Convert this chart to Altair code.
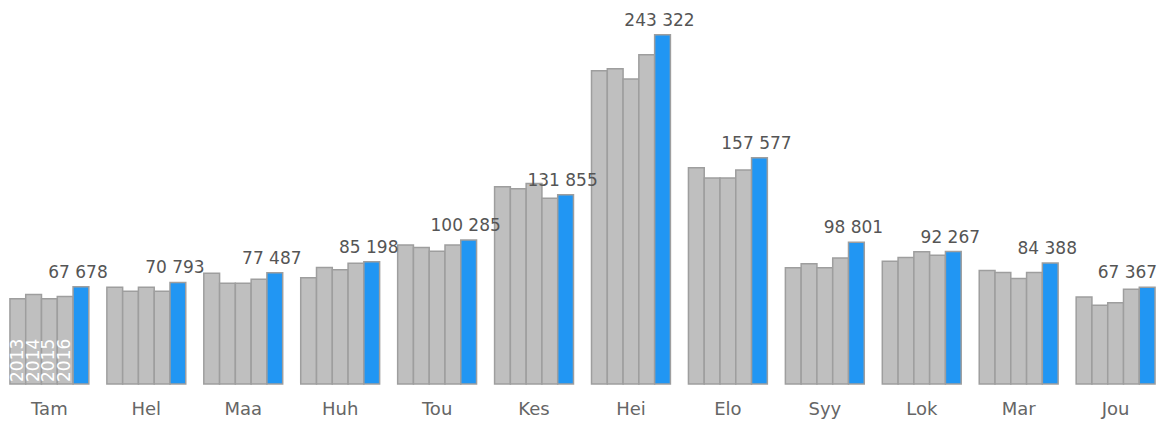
import altair as alt
import pandas as pd

months = ["Tam", "Hel", "Maa", "Huh", "Tou", "Kes", "Hei", "Elo", "Syy", "Lok", "Mar", "Jou"]
years = ["2013", "2014", "2015", "2016", "2017"]

v2013 = [59350, 67480, 77200, 73950, 96780, 137410, 218330, 150600, 81030, 85460, 79030, 60640]
v2014 = [62340, 64700, 70250, 81190, 95160, 136020, 219720, 143620, 83830, 88060, 77630, 54890]
v2015 = [59350, 67480, 70250, 79570, 92560, 139770, 212570, 143620, 81030, 92200, 73460, 56690]
v2016 = [60950, 64700, 73030, 84190, 96780, 129350, 229440, 149200, 87820, 89680, 77630, 65980]
v2017 = [67678, 70793, 77487, 85198, 100285, 131855, 243322, 157577, 98801, 92267, 84388, 67367]

series = [v2013, v2014, v2015, v2016, v2017]

rows = []
for yr, vals in zip(years, series):
    for m, v in zip(months, vals):
        rows.append({"month": m, "year": yr, "value": v,
                     "label": f"{v:,}".replace(",", " ")})
df = pd.DataFrame(rows)

GRAY = "#bfbfbf"
BLUE = "#2196f3"
FONT = "DejaVu Sans"

x = alt.X("month:N", sort=months,
          scale=alt.Scale(paddingInner=0.186, paddingOuter=0.02),
          axis=alt.Axis(title=None, labelAngle=0, domain=False, ticks=False,
                        labelFontSize=18, labelColor="#666666", labelFont=FONT,
                        labelPadding=16))
xo = alt.XOffset("year:N", sort=years, scale=alt.Scale(paddingInner=0, paddingOuter=0))
y = alt.Y("value:Q", scale=alt.Scale(domain=[0, 262000], nice=False), axis=None)

base = alt.Chart(df)

bars = base.mark_bar(stroke="#9e9e9e", strokeWidth=1.5).encode(
    x=x, xOffset=xo, y=y,
    color=alt.Color("year:N", sort=years,
                    scale=alt.Scale(domain=years, range=[GRAY, GRAY, GRAY, GRAY, BLUE]),
                    legend=None),
)

values = base.transform_filter(
    (alt.datum.year == "2017") & (alt.datum.month != "Jou")
).mark_text(
    baseline="bottom", dy=-5, dx=-3, fontSize=17, color="#555555", font=FONT
).encode(x=x, xOffset=xo, y=y, text="label:N")

values_last = base.transform_filter(
    (alt.datum.year == "2017") & (alt.datum.month == "Jou")
).mark_text(
    baseline="bottom", align="right", dy=-5, dx=10, fontSize=17, color="#555555", font=FONT
).encode(x=x, xOffset=xo, y=y, text="label:N")

yearlabels = base.transform_filter(
    (alt.datum.month == "Tam") & (alt.datum.year != "2017")
).mark_text(
    angle=270, align="left", baseline="middle", dx=2, fontSize=17, color="white", font=FONT
).encode(x=x, xOffset=xo, y=alt.datum(0), text="year:N")

chart = alt.layer(bars, values, values_last, yearlabels).properties(
    width=1149, height=376,
    autosize=alt.AutoSizeParams(type="none"),
    padding={"left": 0, "top": 0, "right": 0, "bottom": 36}
).configure_view(stroke=None)

chart.save("out.html", embed_options={"renderer": "svg", "actions": False})
